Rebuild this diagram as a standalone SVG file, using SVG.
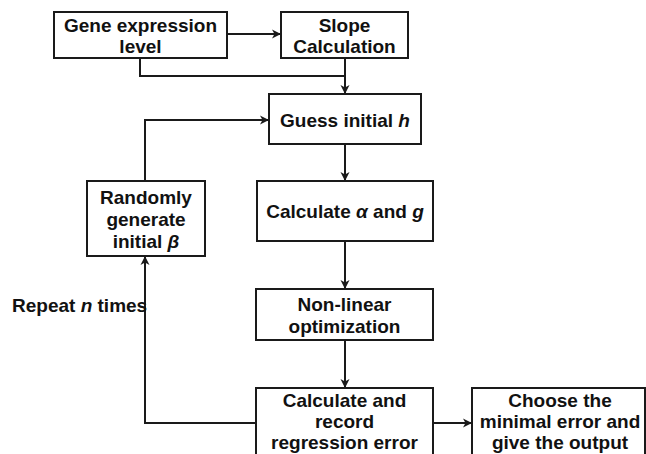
<svg xmlns="http://www.w3.org/2000/svg" width="646" height="454" viewBox="0 0 646 454">
<style>
.box{fill:#fff;stroke:#1a1a1a;stroke-width:2}
.t{font-family:"Liberation Sans",Arial,sans-serif;font-weight:bold;font-size:19px;fill:#111;text-anchor:middle}
.i{font-style:italic}
.c{fill:none;stroke:#1a1a1a;stroke-width:2}
</style>
<defs>
<marker id="a" markerWidth="10" markerHeight="10" refX="8" refY="5" orient="auto" markerUnits="userSpaceOnUse">
<path d="M0,0.5 L9,5 L0,9.5 L2.5,5 Z" fill="#1a1a1a"/>
</marker>
</defs>
<rect width="646" height="454" fill="#fff"/>
<g id="connectors">
<line class="c" x1="227" y1="34" x2="280" y2="34" marker-end="url(#a)"/>
<polyline class="c" points="140,58 140,76 345,76"/>
<line class="c" x1="345" y1="58" x2="345" y2="93" marker-end="url(#a)"/>
<line class="c" x1="345" y1="144" x2="345" y2="180" marker-end="url(#a)"/>
<line class="c" x1="345" y1="241" x2="345" y2="288" marker-end="url(#a)"/>
<line class="c" x1="345" y1="340" x2="345" y2="387" marker-end="url(#a)"/>
<line class="c" x1="433" y1="423" x2="471" y2="423" marker-end="url(#a)"/>
<polyline class="c" points="256,423 145,423 145,257" marker-end="url(#a)"/>
<polyline class="c" points="145,181 145,120 268,120" marker-end="url(#a)"/>
</g>
<g id="gene">
<rect class="box" x="54" y="12" width="173" height="46"/>
<text class="t" x="140.5" y="32">Gene expression</text>
<text class="t" x="140.5" y="53">level</text>
</g>
<g id="slope">
<rect class="box" x="281" y="12" width="127" height="46"/>
<text class="t" x="344.5" y="32">Slope</text>
<text class="t" x="344.5" y="53">Calculation</text>
</g>
<g id="guess">
<rect class="box" x="269" y="94" width="152" height="50"/>
<text class="t" x="345" y="127">Guess initial <tspan class="i">h</tspan></text>
</g>
<g id="random">
<rect class="box" x="87" y="181" width="118" height="75"/>
<text class="t" x="146" y="204">Randomly</text>
<text class="t" x="146" y="226">generate</text>
<text class="t" x="146" y="248">initial <tspan class="i">β</tspan></text>
</g>
<g id="calcag">
<rect class="box" x="257" y="181" width="176" height="60"/>
<text class="t" x="345" y="218">Calculate <tspan class="i">α</tspan> and <tspan class="i">g</tspan></text>
</g>
<g id="nonlinear">
<rect class="box" x="256" y="289" width="177" height="51"/>
<text class="t" x="344.5" y="311">Non-linear</text>
<text class="t" x="344.5" y="333">optimization</text>
</g>
<g id="record">
<rect class="box" x="256" y="388" width="177" height="80"/>
<text class="t" x="344.5" y="407">Calculate and</text>
<text class="t" x="344.5" y="428">record</text>
<text class="t" x="344.5" y="449">regression error</text>
</g>
<g id="choose">
<rect class="box" x="472" y="388" width="173" height="80"/>
<text class="t" x="560" y="407">Choose the</text>
<text class="t" x="560" y="428">minimal error and</text>
<text class="t" x="560" y="449">give the output</text>
</g>
<g id="label">
<text class="t" x="12" y="312" style="text-anchor:start">Repeat <tspan class="i">n</tspan> times</text>
</g>
</svg>
